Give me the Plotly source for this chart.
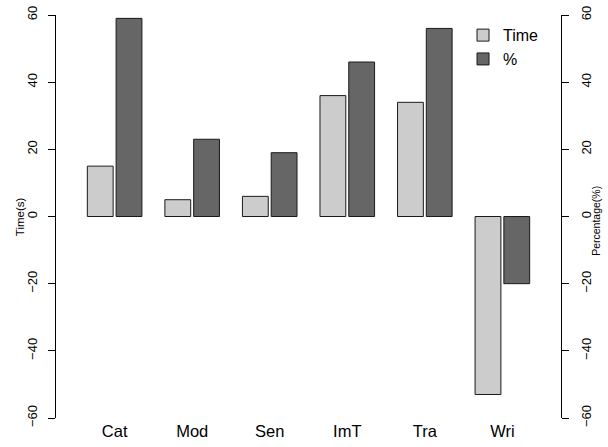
import plotly.graph_objects as go

categories = ["Cat", "Mod", "Sen", "ImT", "Tra", "Wri"]
time_s = [15, 5, 6, 36, 34, -53]
percent = [59, 23, 19, 46, 56, -20]
y_ticks = [-60, -40, -20, 0, 20, 40, 60]

FONT = "Liberation Sans, Arial, Helvetica, sans-serif"
LIGHT = "#CCCCCC"
DARK = "#666666"
EDGE = "#1a1a1a"

fig = go.Figure()
fig.add_trace(go.Bar(
    x=categories, y=time_s, name="Time",
    marker=dict(color=LIGHT, line=dict(color=EDGE, width=1)),
    offset=-0.352, width=0.333, yaxis="y",
))
fig.add_trace(go.Bar(
    x=categories, y=percent, name="%",
    marker=dict(color=DARK, line=dict(color=EDGE, width=1)),
    offset=0.019, width=0.333, yaxis="y2",
))

yax = dict(
    range=[-60, 60], tickvals=y_ticks, ticktext=[str(v).replace("-", "\u2212") for v in y_ticks],
    showgrid=False, zeroline=False, showline=True, linecolor="#000000", linewidth=1,
    ticks="outside", ticklen=7, tickwidth=1, tickcolor="#000000",
    tickangle=-90, tickfont=dict(family=FONT, size=13, color="#000000"),
    ticklabelstandoff=6, automargin=False,
)

fig.update_layout(
    width=608, height=447,
    margin=dict(l=56, r=47, t=15, b=29, pad=0, autoexpand=False),
    paper_bgcolor="white", plot_bgcolor="white",
    font=dict(family=FONT, color="#000000"),
    barmode="overlay",
    xaxis=dict(
        type="category", range=[-0.756, 5.756], showgrid=False, zeroline=False,
        showline=False, ticks="", tickfont=dict(family=FONT, size=16.5, color="#000000"),
        ticklabelstandoff=1, automargin=False,
    ),
    yaxis=dict(**yax, side="left"),
    yaxis2=dict(**yax, side="right", overlaying="y", anchor="x"),
    legend=dict(
        x=0.806, y=0.992, xanchor="left", yanchor="top",
        font=dict(family=FONT, size=16, color="#000000"),
        bgcolor="rgba(0,0,0,0)", borderwidth=0, tracegroupgap=0,
    ),
    showlegend=True,
    annotations=[
        dict(text="Time(s)", xref="paper", yref="paper", x=-0.072, y=0.5,
             showarrow=False, textangle=-90, font=dict(family=FONT, size=11.5, color="#000000"),
             xanchor="center", yanchor="middle"),
        dict(text="Percentage(%)", xref="paper", yref="paper", x=1.068, y=0.49,
             showarrow=False, textangle=-90, font=dict(family=FONT, size=10.5, color="#000000"),
             xanchor="center", yanchor="middle"),
    ],
)

fig.write_html("out.html")
